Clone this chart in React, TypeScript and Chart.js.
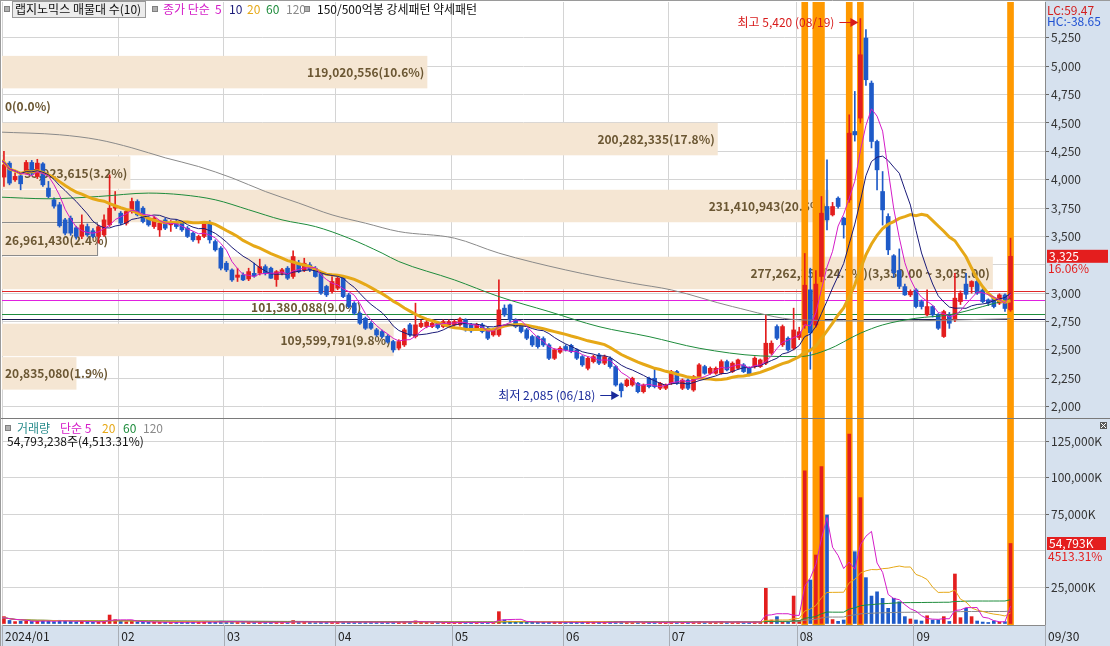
import React, { useEffect, useRef } from 'react';
import { Chart, registerables } from 'chart.js';

Chart.register(...registerables);

// ---------------- data ----------------
const MONTH_START_IDX = [0, 22, 41, 61, 82, 102, 121, 144, 165];
const MONTH_LABELS = ['2024/01', '02', '03', '04', '05', '06', '07', '08', '09'];
const END_LABEL = '09/30';
const HIGH_DATE_LABEL = '08/19';
const LOW_DATE_LABEL = '06/18';

const PRICE_TICKS = [2000, 2250, 2500, 2750, 3000, 3250, 3500, 3750, 4000, 4250, 4500, 4750, 5000, 5250];
const VOLUME_TICKS = [25000, 50000, 75000, 100000, 125000];

const OPEN = [
  4080, 4023, 4146, 3999, 4034, 4070, 4152, 4028, 4140, 3926,
  3823, 3779, 3646, 3661, 3576, 3500, 3587, 3550, 3500, 3514,
  3602, 3749, 3705, 3617, 3720, 3808, 3749, 3661, 3587, 3558,
  3646, 3602, 3631, 3617, 3573, 3529, 3470, 3500, 3617, 3455,
  3397, 3264, 3205, 3140, 3160, 3125, 3175, 3176, 3234, 3220,
  3120, 3176, 3220, 3147, 3264, 3206, 3250, 3220, 3176, 3059,
  3015, 3044, 3132, 2985, 2912, 2823, 2779, 2735, 2677, 2662,
  2620, 2574, 2515, 2544, 2721, 2618, 2706, 2706, 2706, 2735,
  2706, 2721, 2721, 2721, 2765, 2721, 2691, 2721, 2691, 2632,
  2632, 2868, 2897, 2765, 2721, 2677, 2618, 2618, 2600, 2544,
  2426, 2480, 2530, 2540, 2500, 2441, 2338, 2397, 2456, 2383,
  2427, 2353, 2200, 2185, 2191, 2206, 2132, 2250, 2250, 2162,
  2162, 2206, 2309, 2162, 2235, 2147, 2265, 2353, 2294, 2294,
  2294, 2397, 2309, 2338, 2368, 2338, 2353, 2353, 2383, 2471,
  2706, 2545, 2603, 2515, 2610, 2720, 3030, 2720, 3147, 3764,
  3690, 3837, 3661, 3822, 4425, 4543, 5248, 4851, 4337, 3896,
  3676, 3330, 3200, 3058, 2985, 3029, 2926, 2809, 2882, 2809,
  2618, 2809, 2765, 2926, 3080, 3058, 3103, 3029, 2941, 2956,
  2912, 2985, 2853,
];
const HIGH = [
  4250, 4249, 4160, 4060, 4050, 4170, 4170, 4180, 4150, 3985,
  3840, 3800, 3660, 3680, 3590, 3690, 3610, 3570, 3600, 3691,
  4043, 3896, 3720, 3735, 3838, 3823, 3764, 3676, 3676, 3632,
  3660, 3640, 3650, 3632, 3588, 3540, 3510, 3632, 3640, 3470,
  3410, 3280, 3215, 3220, 3180, 3220, 3265, 3300, 3250, 3230,
  3200, 3220, 3235, 3373, 3290, 3308, 3270, 3235, 3190, 3070,
  3147, 3150, 3140, 3000, 2925, 2835, 2790, 2750, 2690, 2675,
  2635, 2585, 2590, 2690, 2735, 2912, 2760, 2760, 2750, 2750,
  2765, 2765, 2765, 2785, 2775, 2735, 2735, 2735, 2700, 2690,
  3117, 2897, 2905, 2775, 2735, 2690, 2630, 2625, 2615, 2555,
  2510, 2530, 2545, 2550, 2510, 2450, 2440, 2455, 2470, 2455,
  2440, 2365, 2210, 2245, 2260, 2215, 2200, 2260, 2338, 2215,
  2200, 2320, 2320, 2245, 2245, 2275, 2380, 2365, 2350, 2350,
  2412, 2410, 2395, 2420, 2380, 2350, 2440, 2420, 2809, 2580,
  2720, 2720, 2615, 2868, 2700, 3350, 3220, 3200, 3852, 4175,
  3800, 3850, 3670, 4572, 4778, 5420, 5322, 4870, 4350, 4072,
  3700, 3340, 3390, 3080, 3030, 3040, 2940, 3029, 2890, 2820,
  2850, 2830, 3176, 3020, 3176, 3110, 3140, 3040, 2950, 2965,
  2995, 2995, 3485,
];
const LOW = [
  4050, 3940, 3955, 3985, 3911, 4050, 4040, 4010, 3941, 3838,
  3750, 3582, 3514, 3510, 3476, 3480, 3500, 3490, 3441, 3500,
  3588, 3730, 3603, 3600, 3705, 3680, 3620, 3590, 3570, 3500,
  3560, 3544, 3570, 3544, 3490, 3456, 3441, 3490, 3441, 3370,
  3206, 3190, 3103, 3103, 3110, 3110, 3140, 3160, 3160, 3130,
  3060, 3160, 3120, 3130, 3180, 3190, 3190, 3140, 2990, 2970,
  3000, 3030, 2960, 2870, 2810, 2725, 2680, 2680, 2620, 2605,
  2560, 2480, 2500, 2530, 2620, 2605, 2695, 2695, 2695, 2685,
  2695, 2710, 2710, 2710, 2665, 2655, 2680, 2650, 2590, 2620,
  2618, 2795, 2750, 2695, 2650, 2590, 2530, 2515, 2530, 2415,
  2415, 2470, 2490, 2475, 2415, 2355, 2324, 2385, 2370, 2370,
  2340, 2180, 2085, 2175, 2180, 2120, 2120, 2165, 2165, 2150,
  2150, 2195, 2195, 2150, 2150, 2135, 2255, 2285, 2285, 2285,
  2285, 2315, 2300, 2330, 2300, 2270, 2340, 2345, 2370, 2460,
  2590, 2530, 2490, 2500, 2590, 2690, 2330, 2700, 3100, 3558,
  3680, 3750, 3485, 3800, 4340, 4500, 4830, 4280, 3910, 3600,
  3340, 3140, 3040, 2980, 2970, 2870, 2860, 2800, 2790, 2680,
  2610, 2690, 2750, 2900, 2950, 3000, 2990, 2915, 2890, 2870,
  2900, 2840, 2840,
];
const CLOSE = [
  4180, 4131, 3970, 4029, 3964, 4152, 4058, 4146, 3955, 3852,
  3767, 3594, 3529, 3529, 3500, 3602, 3514, 3500, 3585, 3646,
  3749, 3764, 3617, 3720, 3808, 3690, 3631, 3602, 3661, 3617,
  3573, 3617, 3587, 3558, 3500, 3470, 3500, 3617, 3470, 3382,
  3220, 3205, 3117, 3160, 3117, 3190, 3150, 3234, 3176, 3132,
  3190, 3206, 3132, 3323, 3191, 3264, 3206, 3147, 3000, 2985,
  3103, 3132, 2970, 2882, 2823, 2735, 2691, 2691, 2632, 2618,
  2570, 2500, 2574, 2677, 2632, 2721, 2735, 2744, 2735, 2697,
  2750, 2750, 2750, 2774, 2677, 2668, 2721, 2662, 2603, 2677,
  2853, 2809, 2765, 2706, 2662, 2603, 2544, 2529, 2544, 2426,
  2500, 2515, 2500, 2485, 2427, 2368, 2426, 2441, 2383, 2441,
  2353, 2191, 2140, 2235, 2250, 2132, 2191, 2176, 2176, 2206,
  2191, 2309, 2206, 2235, 2162, 2265, 2368, 2294, 2338, 2338,
  2397, 2324, 2383, 2412, 2309, 2280, 2427, 2412, 2559, 2559,
  2603, 2706, 2500, 2676, 2660, 3070, 2650, 3080, 3705, 3646,
  3764, 3764, 3602, 4410, 4395, 5101, 4881, 4337, 4087, 3734,
  3382, 3180, 3060, 2985, 3014, 2882, 2882, 2882, 2809, 2691,
  2838, 2735, 2956, 3000, 2990, 3103, 3000, 2926, 2912, 2882,
  2985, 2865, 3325,
];
// volume in thousand shares
const VOLUME = [
  3200, 4700, 2100, 1300, 1500, 1800, 1400, 1600, 2000, 1500,
  1300, 2200, 1700, 1400, 1200, 1500, 1100, 900, 1200, 1400,
  5800, 2600, 1500, 1200, 1600, 1100, 1000, 900, 800, 900,
  800, 700, 800, 900, 1000, 900, 800, 1200, 1100, 900,
  1600, 1300, 1200, 900, 800, 900, 800, 1000, 900, 800,
  900, 800, 700, 2000, 1100, 900, 800, 700, 1300, 1000,
  900, 800, 1100, 1000, 900, 1000, 1100, 800, 900, 800,
  900, 1200, 900, 1300, 1000, 1800, 900, 800, 700, 700,
  800, 700, 700, 900, 800, 700, 600, 700, 800, 700,
  8100, 2500, 1600, 1200, 1000, 900, 1100, 800, 800, 1200,
  900, 800, 700, 800, 900, 1000, 900, 700, 800, 700,
  900, 1400, 1500, 900, 800, 800, 700, 800, 1300, 700,
  600, 1000, 800, 900, 700, 1100, 1500, 900, 800, 900,
  1400, 900, 800, 1000, 800, 900, 1200, 1100, 24100, 2400,
  4700, 1100, 1100, 18800, 2000, 104500, 29800, 46900, 107400, 74300,
  2700, 1500, 2400, 129800, 49200, 86200, 31400, 18800, 21700, 17200,
  10400, 17300, 14900, 4700, 3100, 2400, 1700, 5300, 2400, 2400,
  4700, 1400, 33900, 4000, 10400, 4700, 1700, 1000, 700, 1700,
  1000, 1214.036, 54793.238,
];
const STRONG_PATTERN_IDX = [145, 147, 148, 153, 155, 182];

const MA60_IDX = [0, 9, 18, 27, 33, 39, 45, 51, 57, 63, 69, 72, 82, 90, 99, 108, 117, 126, 137, 144, 149, 155, 159, 165, 171, 177, 182];
const MA60_VAL = [3847, 3832, 3852, 3882, 3867, 3823, 3735, 3646, 3587, 3485, 3353, 3279, 3117, 2970, 2838, 2705, 2617, 2515, 2447, 2441, 2500, 2647, 2720, 2779, 2809, 2882, 2950];
const MA120_IDX = [0, 11, 18, 24, 30, 36, 42, 48, 54, 60, 66, 72, 82, 90, 102, 114, 121, 132, 144, 160, 182];
const MA120_VAL = [4420, 4396, 4352, 4281, 4193, 4116, 4016, 3896, 3794, 3690, 3617, 3543, 3485, 3353, 3205, 3088, 3029, 2882, 2765, 2755, 2775];

// volume profile (매물대) price band edges (low -> high) and volumes
const BAND_EDGES = [2150, 2445, 2740, 3035, 3330, 3625, 3920, 4215, 4510, 4805, 5100];
const BAND_VOLUME = [20835080, 109599791, 101380088, 277262353, 26961430, 231410943, 35923615, 200282335, 0, 119020556];

const PRICE_LINES = [3020, 2941, 2818, 2771];

// ---------------- styles ----------------
const W = 1110;
const PRICE_H = 418;
const VOL_TOP = 418;
const VOL_H = 228;
const AXIS_W = 65;
const X_MIN = 0.65;
const X_MAX = 188.2;
const Y_MIN = 1900;
const Y_MAX = 5566;
const V_MIN = -1027;
const V_MAX = 140069;

const FONT = '"Noto Sans CJK KR", "Noto Sans", sans-serif';
const RED = '#e31e1e';
const BLUE = '#1e5ac8';
const ORANGE = '#ff9900';
const GRID = '#d4d4d4';
const AXIS_BG = '#d6e1ee';
const BAND_FILL = '#f5e6d3';
const BAND_TEXT = '#6b5733';
const BAND_MAX_FRAC = 0.95;
const BAND_NO_FILL = 2;
const BAND_OUTLINE = 4;
const PRICE_LINE_COLORS = ['#e02828', '#e020e0', '#1e8c3c', '#1a1a50'];
const C_MA5 = '#d41cc8';
const C_MA10 = '#1a1a78';
const C_MA20 = '#e6a817';
const C_MA60 = '#1e8c3c';
const C_MA120 = '#8a8a8a';

// ---------------- helpers ----------------
function sma(arr: number[], n: number) {
  return arr.map((_, i) => {
    const s = Math.max(0, i - n + 1);
    let sum = 0;
    for (let k = s; k <= i; k++) sum += arr[k];
    return sum / (i - s + 1);
  });
}
const fmt = (n: number) => n.toLocaleString('en-US');
const fmt2 = (n: number) => n.toLocaleString('en-US', { minimumFractionDigits: 2, maximumFractionDigits: 2 });

const IDX = CLOSE.map((_, i) => i);
const CANDLE_COLOR = CLOSE.map((c, i) => (c >= OPEN[i] ? RED : BLUE));
const LAST = CLOSE.length - 1;

function monthTicks(s: any) {
  s.ticks = [...MONTH_START_IDX.map((i) => ({ value: Math.max(X_MIN, i - 0.45) })), { value: X_MAX }];
}

function lineDs(values: number[], color: string, width: number, order: number) {
  return {
    type: 'line',
    data: values.map((v, i) => ({ x: i, y: v })),
    borderColor: color,
    borderWidth: width,
    pointRadius: 0,
    tension: 0,
    order,
  };
}
function sparseLineDs(idx: number[], vals: number[], color: string, order: number) {
  return {
    type: 'line',
    data: idx.map((i, k) => ({ x: i, y: vals[k] })),
    borderColor: color,
    borderWidth: 1,
    pointRadius: 0,
    cubicInterpolationMode: 'monotone',
    order,
  };
}

// ---------------- plugins ----------------
const pricePlugin = {
  id: 'priceOverlay',
  beforeDraw(chart: any) {
    const { ctx, chartArea: a, width, height } = chart;
    ctx.save();
    ctx.fillStyle = AXIS_BG;
    ctx.fillRect(a.right, 0, width - a.right, height);
    ctx.restore();
  },
  beforeDatasetsDraw(chart: any) {
    const { ctx, chartArea: a, scales } = chart;
    const y = scales.y;
    ctx.save();
    ctx.beginPath();
    ctx.rect(a.left, a.top, a.right - a.left, a.bottom - a.top);
    ctx.clip();
    const maxVol = Math.max(...BAND_VOLUME);
    const total = BAND_VOLUME.reduce((s, v) => s + v, 0);
    const fullW = (a.right - a.left) * BAND_MAX_FRAC;
    const lastClose = CLOSE[LAST];
    const geo = BAND_VOLUME.map((v, k) => ({
      v,
      k,
      top: y.getPixelForValue(BAND_EDGES[k + 1]),
      bot: y.getPixelForValue(BAND_EDGES[k]),
      w: (v / maxVol) * fullW,
    }));
    geo.forEach((g) => {
      if (g.k === BAND_NO_FILL || g.w <= 0) return;
      ctx.fillStyle = BAND_FILL;
      ctx.fillRect(a.left, g.top + 1, g.w, g.bot - g.top - 1);
    });
    const ob = geo[BAND_OUTLINE];
    ctx.strokeStyle = '#8c8c8c';
    ctx.lineWidth = 1;
    ctx.strokeRect(a.left - 1.5, Math.round(ob.top) + 0.5, Math.round(ob.w) + 1, Math.round(ob.bot - ob.top));

    PRICE_LINES.forEach((p, k) => {
      const py = Math.round(y.getPixelForValue(p)) + 0.5;
      ctx.strokeStyle = PRICE_LINE_COLORS[k];
      ctx.beginPath();
      ctx.moveTo(a.left, py);
      ctx.lineTo(a.right, py);
      ctx.stroke();
    });

    ctx.font = `bold 12px ${FONT}`;
    ctx.fillStyle = BAND_TEXT;
    ctx.textBaseline = 'middle';
    geo.forEach((g) => {
      const lo = BAND_EDGES[g.k];
      const hi = BAND_EDGES[g.k + 1];
      let label = `${fmt(g.v)}(${((g.v / total) * 100).toFixed(1)}%)`;
      if (lastClose >= lo && lastClose < hi) label += `(${fmt2(hi)} ~ ${fmt2(lo)})`;
      const tw = ctx.measureText(label).width;
      const cy = (g.top + g.bot) / 2 + 1;
      if (g.w >= tw + 8) {
        ctx.textAlign = 'right';
        ctx.fillText(label, a.left + g.w - 3, cy);
      } else {
        ctx.textAlign = 'left';
        ctx.fillText(label, a.left + 3, cy);
      }
    });
    ctx.restore();
  },
  afterDatasetsDraw(chart: any) {
    const { ctx, scales } = chart;
    const { x, y } = scales;
    ctx.save();
    ctx.font = `12px ${FONT}`;
    ctx.textBaseline = 'middle';
    ctx.lineWidth = 1;
    const mark = (idx: number, price: number, text: string, color: string, dy: number) => {
      const tipX = x.getPixelForValue(idx) - 2;
      const ty = Math.round(y.getPixelForValue(price) + dy) + 0.5;
      ctx.fillStyle = color;
      ctx.strokeStyle = color;
      ctx.beginPath();
      ctx.moveTo(tipX - 19, ty);
      ctx.lineTo(tipX - 6, ty);
      ctx.stroke();
      ctx.beginPath();
      ctx.moveTo(tipX, ty);
      ctx.lineTo(tipX - 8, ty - 4.5);
      ctx.lineTo(tipX - 8, ty + 4.5);
      ctx.closePath();
      ctx.fill();
      ctx.textAlign = 'right';
      ctx.fillText(text, tipX - 24, ty);
    };
    const maxH = Math.max(...HIGH);
    const minL = Math.min(...LOW);
    mark(HIGH.indexOf(maxH), maxH, `최고 ${fmt(maxH)} (${HIGH_DATE_LABEL})`, '#d81c1c', 3);
    mark(LOW.indexOf(minL), minL, `최저 ${fmt(minL)} (${LOW_DATE_LABEL})`, '#1a2a9a', -2);
    ctx.restore();
  },
  afterDraw(chart: any) {
    const { ctx, chartArea: a, scales, width, height } = chart;
    const y = scales.y;
    ctx.save();
    ctx.font = `12px ${FONT}`;
    ctx.textBaseline = 'middle';
    ctx.textAlign = 'left';
    const last = CLOSE[LAST];
    const lc = (last / Math.min(...LOW) - 1) * 100;
    const hc = (last / Math.max(...HIGH) - 1) * 100;
    ctx.fillStyle = AXIS_BG;
    ctx.fillRect(a.right + 1, 0, width - a.right, 28);
    ctx.fillStyle = '#d21e1e';
    ctx.fillText(`LC:${lc.toFixed(2)}`, a.right + 2, 10);
    ctx.fillStyle = '#1e50d2';
    ctx.fillText(`HC:${hc.toFixed(2)}`, a.right + 2, 21);

    const yy = y.getPixelForValue(last);
    const pct = (last / CLOSE[LAST - 1] - 1) * 100;
    ctx.fillStyle = AXIS_BG;
    ctx.fillRect(a.right + 1, yy - 7, width - a.right - 1, 26);
    ctx.fillStyle = '#e41e1e';
    ctx.fillRect(a.right + 2, yy - 6.5, 61, 13);
    ctx.fillStyle = '#ffffff';
    ctx.fillText(fmt(last), a.right + 4, yy);
    ctx.fillStyle = '#e41e1e';
    ctx.fillText(`${pct.toFixed(2)}%`, a.right + 3, yy + 12);

    ctx.strokeStyle = '#9a9a9a';
    ctx.beginPath();
    ctx.moveTo(0, 0.5);
    ctx.lineTo(width, 0.5);
    ctx.moveTo(0.5, 0);
    ctx.lineTo(0.5, height);
    ctx.stroke();
    ctx.restore();
  },
};

const volPlugin = {
  id: 'volOverlay',
  beforeDraw(chart: any) {
    const { ctx, chartArea: a, width, height } = chart;
    ctx.save();
    ctx.fillStyle = AXIS_BG;
    ctx.fillRect(a.right, 0, width - a.right, height);
    ctx.fillRect(0, a.bottom, a.right, height - a.bottom);
    ctx.restore();
  },
  afterDraw(chart: any) {
    const { ctx, chartArea: a, scales, width, height } = chart;
    const { x, y } = scales;
    ctx.save();
    ctx.strokeStyle = '#a8adb5';
    ctx.lineWidth = 1;
    x.ticks.forEach((t: any) => {
      const px = Math.round(x.getPixelForValue(t.value)) + 0.5;
      ctx.beginPath();
      ctx.moveTo(px, a.bottom);
      ctx.lineTo(px, height);
      ctx.stroke();
    });
    const v = VOLUME[LAST];
    const yy = y.getPixelForValue(v);
    const pct = (v / VOLUME[LAST - 1]) * 100;
    ctx.font = `12px ${FONT}`;
    ctx.textBaseline = 'middle';
    ctx.textAlign = 'left';
    ctx.fillStyle = AXIS_BG;
    ctx.fillRect(a.right + 1, yy - 7, width - a.right - 1, 27);
    ctx.fillStyle = '#e41e1e';
    ctx.fillRect(a.right + 2, yy - 6.5, 59, 13);
    ctx.fillStyle = '#ffffff';
    ctx.fillText(`${fmt(Math.round(v))}K`, a.right + 4, yy);
    ctx.fillStyle = '#e41e1e';
    ctx.fillText(`${pct.toFixed(2)}%`, a.right + 3, yy + 13);

    ctx.fillStyle = '#5a5a5a';
    ctx.fillRect(width - 10, 4, 7, 7);
    ctx.strokeStyle = '#ffffff';
    ctx.beginPath();
    ctx.moveTo(width - 9, 5);
    ctx.lineTo(width - 4, 10);
    ctx.moveTo(width - 4, 5);
    ctx.lineTo(width - 9, 10);
    ctx.stroke();

    ctx.strokeStyle = '#7a7a7a';
    ctx.lineWidth = 2;
    ctx.beginPath();
    ctx.moveTo(0, 0);
    ctx.lineTo(width, 0);
    ctx.stroke();
    ctx.lineWidth = 1;
    ctx.strokeStyle = '#9a9a9a';
    ctx.beginPath();
    ctx.moveTo(0.5, 0);
    ctx.lineTo(0.5, height);
    ctx.stroke();
    ctx.restore();
  },
};

const tickFont = { family: FONT, size: 12 };

function baseX(showLabels: boolean) {
  return {
    type: 'linear',
    min: X_MIN,
    max: X_MAX,
    offset: false,
    grid: { color: GRID, drawTicks: false, offset: false },
    border: { display: showLabels, color: '#8a8a8a' },
    ticks: {
      display: showLabels,
      autoSkip: false,
      maxRotation: 0,
      minRotation: 0,
      align: 'start',
      labelOffset: 3,
      padding: 4,
      color: '#222',
      font: tickFont,
      callback: (_v: any, i: number) => (i < MONTH_LABELS.length ? MONTH_LABELS[i] : END_LABEL),
    },
    afterBuildTicks: monthTicks,
    afterFit: (s: any) => {
      s.height = showLabels ? 21 : 0;
      s.paddingLeft = 0;
      s.paddingRight = 0;
    },
  };
}

function valueAxis(min: number, max: number, tickValues: number[], suffix: string) {
  return {
    type: 'linear',
    position: 'right',
    min,
    max,
    grid: { color: GRID, tickColor: '#666', tickLength: 4 },
    border: { display: true, color: '#8a8a8a' },
    ticks: {
      color: '#333',
      font: tickFont,
      padding: 2,
      callback: (v: number) => `${fmt(v)}${suffix}`,
    },
    afterBuildTicks: (s: any) => {
      s.ticks = tickValues.map((v) => ({ value: v }));
    },
    afterFit: (s: any) => {
      s.width = AXIS_W;
      s.paddingTop = 0;
      s.paddingBottom = 0;
    },
  };
}

function priceConfig(): any {
  const ma5 = sma(CLOSE, 5);
  const ma10 = sma(CLOSE, 10);
  const ma20 = sma(CLOSE, 20);
  return {
    type: 'bar',
    data: {
      datasets: [
        sparseLineDs(MA120_IDX, MA120_VAL, C_MA120, 6),
        sparseLineDs(MA60_IDX, MA60_VAL, C_MA60, 5),
        lineDs(ma20, C_MA20, 3, 4),
        lineDs(ma10, C_MA10, 1, 3),
        lineDs(ma5, C_MA5, 1, 2),
        {
          type: 'bar',
          data: IDX.map((i) => ({ x: i, y: [Math.min(OPEN[i], CLOSE[i]), Math.max(OPEN[i], CLOSE[i])] })),
          backgroundColor: CANDLE_COLOR,
          barThickness: 4,
          minBarLength: 1,
          grouped: false,
          order: 11,
        },
        {
          type: 'bar',
          data: IDX.map((i) => ({ x: i, y: [LOW[i], HIGH[i]] })),
          backgroundColor: CANDLE_COLOR,
          barThickness: 1,
          grouped: false,
          order: 12,
        },
        {
          type: 'bar',
          data: STRONG_PATTERN_IDX.map((i) => ({ x: i, y: [Y_MIN, Y_MAX] })),
          backgroundColor: ORANGE,
          barThickness: 6,
          grouped: false,
          order: 20,
        },
      ],
    },
    options: {
      animation: false,
      responsive: false,
      devicePixelRatio: 1,
      events: [],
      layout: { padding: { left: 2, top: 2, right: 0, bottom: 0 }, autoPadding: false },
      plugins: { legend: { display: false }, tooltip: { enabled: false } },
      scales: {
        x: baseX(false),
        y: valueAxis(Y_MIN, Y_MAX, PRICE_TICKS, ''),
      },
    },
    plugins: [pricePlugin],
  };
}

function volConfig(): any {
  const v5 = sma(VOLUME, 5);
  const v20 = sma(VOLUME, 20);
  const v60 = sma(VOLUME, 60);
  const v120 = sma(VOLUME, 120);
  return {
    type: 'bar',
    data: {
      datasets: [
        lineDs(v120, C_MA120, 1, 5),
        lineDs(v60, C_MA60, 1, 4),
        lineDs(v20, C_MA20, 1, 3),
        lineDs(v5, C_MA5, 1, 2),
        {
          type: 'bar',
          data: IDX.map((i) => ({ x: i, y: VOLUME[i] })),
          backgroundColor: CANDLE_COLOR,
          barThickness: 3,
          grouped: false,
          order: 11,
        },
        {
          type: 'bar',
          data: STRONG_PATTERN_IDX.map((i) => ({ x: i, y: [V_MIN, V_MAX] })),
          backgroundColor: ORANGE,
          barThickness: 6,
          grouped: false,
          order: 20,
        },
      ],
    },
    options: {
      animation: false,
      responsive: false,
      devicePixelRatio: 1,
      events: [],
      layout: { padding: { left: 2, top: 1, right: 0, bottom: 0 }, autoPadding: false },
      plugins: { legend: { display: false }, tooltip: { enabled: false } },
      scales: {
        x: baseX(true),
        y: valueAxis(V_MIN, V_MAX, VOLUME_TICKS, 'K'),
      },
    },
    plugins: [volPlugin],
  };
}

// ---------------- components ----------------
function T(props: { x: number; y: number; c?: string; children: any }) {
  return (
    <span
      style={{
        position: 'absolute',
        left: props.x,
        top: props.y,
        color: props.c || '#111',
        fontSize: 12,
        lineHeight: '14px',
        whiteSpace: 'nowrap',
      }}
    >
      {props.children}
    </span>
  );
}
function Sq(props: { x: number; y: number }) {
  return (
    <span
      style={{
        position: 'absolute',
        left: props.x,
        top: props.y,
        width: 4,
        height: 4,
        background: '#b0b0b0',
        border: '1px solid #808080',
      }}
    />
  );
}

export default function App() {
  const priceRef = useRef<HTMLCanvasElement>(null);
  const volRef = useRef<HTMLCanvasElement>(null);

  useEffect(() => {
    document.body.style.margin = '0';
    const c1 = new Chart(priceRef.current as HTMLCanvasElement, priceConfig());
    const c2 = new Chart(volRef.current as HTMLCanvasElement, volConfig());
    return () => {
      c1.destroy();
      c2.destroy();
    };
  }, []);

  const lastVol = VOLUME[LAST];
  const volPct = (lastVol / VOLUME[LAST - 1]) * 100;

  return (
    <div
      style={{
        position: 'relative',
        width: W,
        height: 646,
        overflow: 'hidden',
        background: '#fff',
        fontFamily: FONT,
      }}
    >
      <canvas ref={priceRef} width={W} height={PRICE_H} style={{ position: 'absolute', left: 0, top: 0 }} />
      <canvas ref={volRef} width={W} height={VOL_H} style={{ position: 'absolute', left: 0, top: VOL_TOP }} />

      <Sq x={4} y={6} />
      <span
        style={{
          position: 'absolute',
          left: 12,
          top: 1,
          width: 132,
          height: 15,
          border: '1px solid #9a9a9a',
          background: '#ececec',
        }}
      />
      <T x={15} y={2}>랩지노믹스 매물대 수(10)</T>
      <Sq x={152} y={6} />
      <T x={163} y={2} c={C_MA5}>종가 단순</T>
      <T x={215} y={2} c={C_MA5}>5</T>
      <T x={229} y={2} c={C_MA10}>10</T>
      <T x={247} y={2} c={C_MA20}>20</T>
      <T x={266} y={2} c={C_MA60}>60</T>
      <T x={286} y={2} c={C_MA120}>120</T>
      <Sq x={304} y={6} />
      <T x={317} y={2}>150/500억봉 강세패턴</T>
      <T x={433} y={2}>약세패턴</T>

      <Sq x={5} y={425} />
      <T x={17} y={421} c="#2a8c8c">거래량</T>
      <T x={60} y={421} c={C_MA5}>단순 5</T>
      <T x={102} y={421} c={C_MA20}>20</T>
      <T x={123} y={421} c={C_MA60}>60</T>
      <T x={143} y={421} c={C_MA120}>120</T>
      <T x={7} y={434}>
        {`${fmt(Math.round(lastVol * 1000))}주(${fmt2(volPct)}%)`}
      </T>
    </div>
  );
}
